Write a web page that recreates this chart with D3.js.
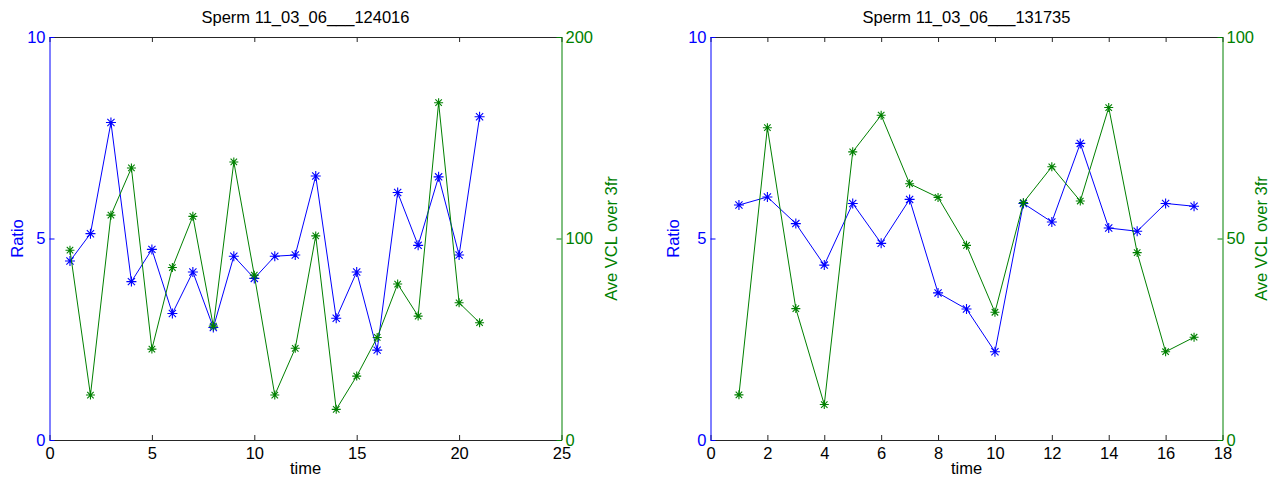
<!DOCTYPE html>
<html>
<head>
<meta charset="utf-8">
<script src="https://cdn.jsdelivr.net/npm/d3@7"></script>
<style>
  html, body { margin: 0; padding: 0; background: #fff; }
  svg { display: block; }
  text { font-family: "Liberation Sans", Arial, Helvetica, sans-serif; }
</style>
</head>
<body>
<svg id="chart" width="1284" height="485"></svg>
<script>
// ---- data ----
const titleA = "Sperm 11_03_06___124016";
const timeA = [1,2,3,4,5,6,7,8,9,10,11,12,13,14,15,16,17,18,19,20,21];
const ratioA = [4.44,5.12,7.88,3.93,4.73,3.14,4.17,2.79,4.56,4.01,4.56,4.59,6.55,3.02,4.17,2.23,6.14,4.83,6.53,4.59,8.02];
const vclA = [94.2,22.3,111.6,135,45.1,85.6,111,56.5,138,81.8,22.3,45.5,101.3,15.2,31.7,50.9,77.4,61.5,167.4,68.1,58.2];
const xTicksA = [0,5,10,15,20,25];
const ratioTicks = [0,5,10];
const vclTicksA = [0,100,200];

const titleB = "Sperm 11_03_06___131735";
const timeB = [1,2,3,4,5,6,7,8,9,10,11,12,13,14,15,16,17];
const ratioB = [5.83,6.03,5.37,4.34,5.87,4.88,5.97,3.65,3.25,2.19,5.87,5.41,7.36,5.26,5.18,5.87,5.80];
const vclB = [11.2,77.5,32.6,8.8,71.5,80.6,63.6,60.2,48.3,31.7,58.9,67.8,59.3,82.5,46.5,21.9,25.5];
const xTicksB = [0,2,4,6,8,10,12,14,16,18];
const vclTicksB = [0,50,100];

const xLabel = "time";
const yLabelLeft = "Ratio";
const yLabelRight = "Ave VCL over 3fr";

// ---- drawing ----
const BLUE = "#0000ff", GREEN = "#008000", AXIS = "#262626";
const FONT = 16.5;
const svg = d3.select("#chart");

function asterisk(r) {
  const d = r * 0.72;
  return `M${-r},0H${r}M0,${-r}V${r}M${-d},${-d}L${d},${d}M${-d},${d}L${d},${-d}`;
}

function panel(cfg) {
  const {left, right, top, bottom} = cfg;
  const g = svg.append("g");
  const x = d3.scaleLinear().domain([cfg.xTicks[0], cfg.xTicks[cfg.xTicks.length-1]]).range([left, right]);
  const yL = d3.scaleLinear().domain([0, 10]).range([bottom, top]);
  const yR = d3.scaleLinear().domain([cfg.vclTicks[0], cfg.vclTicks[cfg.vclTicks.length-1]]).range([bottom, top]);

  const styleAxis = (sel, color) => {
    sel.selectAll("path.domain").attr("stroke", color).attr("stroke-width", 1);
    sel.selectAll(".tick line").attr("stroke", color).attr("stroke-width", 1);
    sel.selectAll(".tick text").attr("fill", color).attr("font-size", FONT)
       .attr("font-family", '"Liberation Sans", Arial, Helvetica, sans-serif');
  };

  // bottom axis
  const gx = g.append("g").attr("transform", `translate(0,${bottom})`)
    .call(d3.axisBottom(x).tickValues(cfg.xTicks).tickFormat(d3.format("d")).tickSizeInner(-5).tickSizeOuter(0).tickPadding(7));
  styleAxis(gx, AXIS);
  gx.selectAll(".tick text").attr("fill", "#000");
  // top axis
  const gt = g.append("g").attr("transform", `translate(0,${top})`)
    .call(d3.axisTop(x).tickValues(cfg.xTicks).tickFormat("").tickSizeInner(-5).tickSizeOuter(0));
  styleAxis(gt, AXIS);
  // left axis
  const gl = g.append("g").attr("transform", `translate(${left},0)`)
    .call(d3.axisLeft(yL).tickValues(ratioTicks).tickFormat(d3.format("d")).tickSizeInner(-5).tickSizeOuter(0).tickPadding(4));
  styleAxis(gl, BLUE);
  // right axis
  const gr = g.append("g").attr("transform", `translate(${right},0)`)
    .call(d3.axisRight(yR).tickValues(cfg.vclTicks).tickFormat(d3.format("d")).tickSizeInner(-5).tickSizeOuter(0).tickPadding(4));
  styleAxis(gr, GREEN);

  // title & labels
  g.append("text").attr("x", (left + right) / 2).attr("y", top - 14)
    .attr("text-anchor", "middle").attr("font-size", FONT).attr("fill", "#000").text(cfg.title);
  g.append("text").attr("x", (left + right) / 2).attr("y", bottom + 34)
    .attr("text-anchor", "middle").attr("font-size", FONT).attr("fill", "#000").text(xLabel);
  g.append("text").attr("transform", `translate(${cfg.ratioLabelX},${(top + bottom) / 2}) rotate(-90)`)
    .attr("text-anchor", "middle").attr("font-size", FONT).attr("fill", BLUE).text(yLabelLeft);
  g.append("text").attr("transform", `translate(${cfg.vclLabelX},${(top + bottom) / 2}) rotate(-90)`)
    .attr("text-anchor", "middle").attr("font-size", FONT).attr("fill", GREEN).text(yLabelRight);

  // blue series
  const lineL = d3.line().x((d, i) => x(cfg.time[i])).y(d => yL(d));
  g.append("path").datum(cfg.ratio).attr("d", lineL)
    .attr("fill", "none").attr("stroke", BLUE).attr("stroke-width", 1);
  g.selectAll(".mb").data(cfg.ratio).enter().append("path")
    .attr("transform", (d, i) => `translate(${x(cfg.time[i])},${yL(d)})`)
    .attr("d", asterisk(5)).attr("fill", "none").attr("stroke", BLUE).attr("stroke-width", 1.1);

  // green series
  const lineR = d3.line().x((d, i) => x(cfg.time[i])).y(d => yR(d));
  g.append("path").datum(cfg.vcl).attr("d", lineR)
    .attr("fill", "none").attr("stroke", GREEN).attr("stroke-width", 1);
  g.selectAll(".mg").data(cfg.vcl).enter().append("path")
    .attr("transform", (d, i) => `translate(${x(cfg.time[i])},${yR(d)})`)
    .attr("d", asterisk(4.5)).attr("fill", "none").attr("stroke", GREEN).attr("stroke-width", 1.1);
}

panel({left: 49.5, right: 561.5, top: 37, bottom: 440, title: titleA,
  time: timeA, ratio: ratioA, vcl: vclA, xTicks: xTicksA, vclTicks: vclTicksA,
  ratioLabelX: 23, vclLabelX: 617});
panel({left: 710.5, right: 1222.5, top: 37, bottom: 440, title: titleB,
  time: timeB, ratio: ratioB, vcl: vclB, xTicks: xTicksB, vclTicks: vclTicksB,
  ratioLabelX: 679, vclLabelX: 1267});
</script>
</body>
</html>
